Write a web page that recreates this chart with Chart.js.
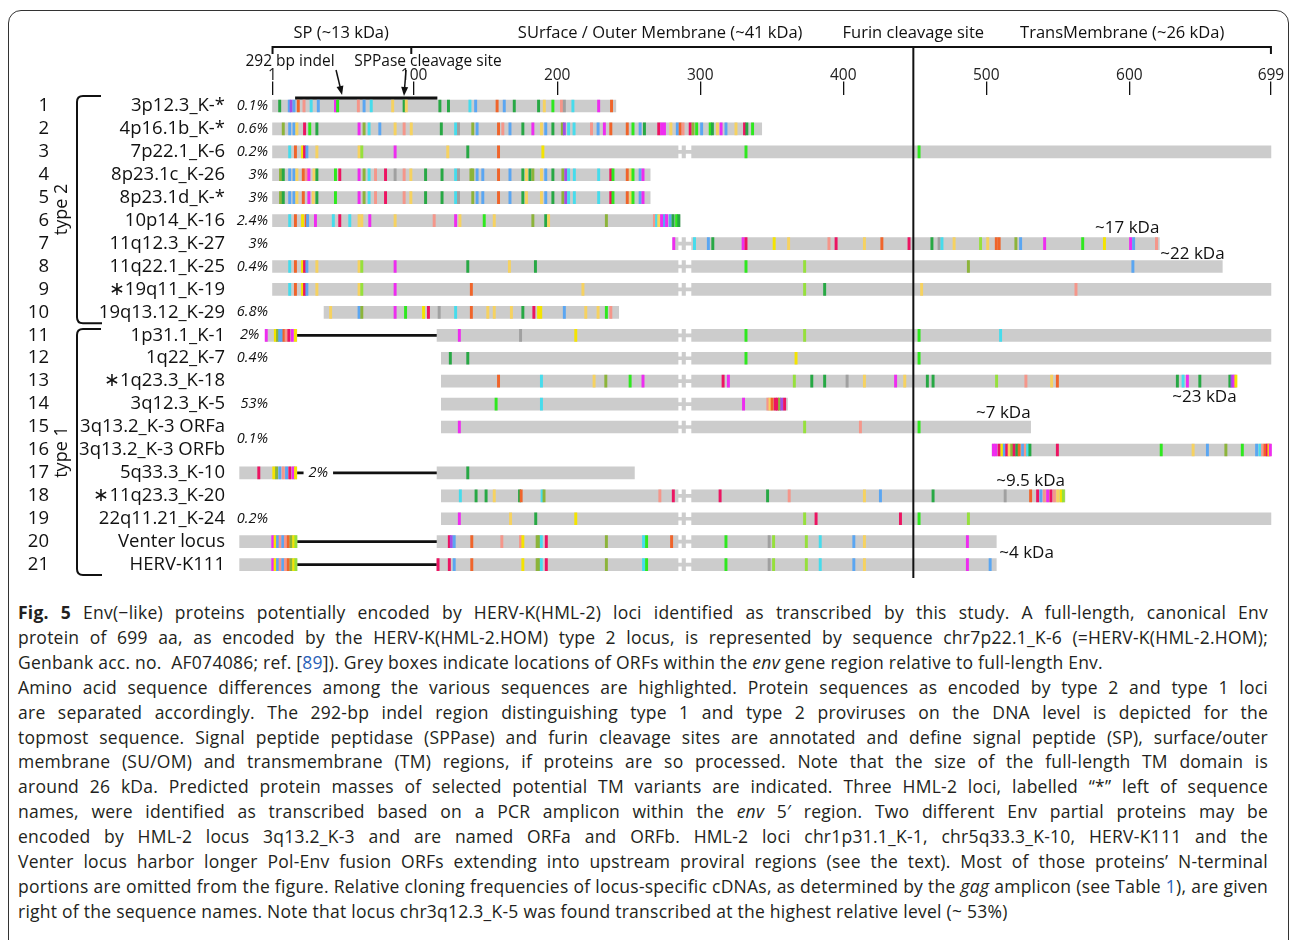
<!DOCTYPE html>
<html>
<head>
<meta charset="utf-8">
<script src="https://cdn.jsdelivr.net/npm/chart.js@4.4.1/dist/chart.umd.min.js"></script>
<style>
html, body { margin: 0; padding: 0; background: #fff; }
body { width: 1290px; height: 940px; position: relative; overflow: hidden; font-family: 'Open Sans', sans-serif; }
#frame { position: absolute; left: 8px; top: 10px; width: 1281px; height: 1000px; border: 1.5px solid #333; border-radius: 13px; box-sizing: border-box; }
#wrap { position: absolute; left: 0; top: 0; width: 1290px; height: 600px; }
#caption { position: absolute; left: 18px; top: 600px; width: 1250px; font-size: 17.5px; letter-spacing: 0.25px; line-height: 24.9px; color: #231f20; }
#caption div { white-space: nowrap; text-align: justify; text-align-last: justify; }
#caption div.last { text-align-last: left; }
#caption .ln { color: #2a5fb8; }
</style>
</head>
<body>
<div id="frame"></div>
<div id="wrap"><canvas id="envChart" width="1290" height="600"></canvas></div>
<div id="caption">
<div><b>Fig. 5</b> Env(−like) proteins potentially encoded by HERV-K(HML-2) loci identified as transcribed by this study. A full-length, canonical Env</div>
<div>protein of 699 aa, as encoded by the HERV-K(HML-2.HOM) type 2 locus, is represented by sequence chr7p22.1_K-6 (=HERV-K(HML-2.HOM);</div>
<div class="last">Genbank acc. no.&nbsp; AF074086; ref. [<span class="ln">89</span>]). Grey boxes indicate locations of ORFs within the <i>env</i> gene region relative to full-length Env.</div>
<div>Amino acid sequence differences among the various sequences are highlighted. Protein sequences as encoded by type 2 and type 1 loci</div>
<div>are separated accordingly. The 292-bp indel region distinguishing type 1 and type 2 proviruses on the DNA level is depicted for the</div>
<div>topmost sequence. Signal peptide peptidase (SPPase) and furin cleavage sites are annotated and define signal peptide (SP), surface/outer</div>
<div>membrane (SU/OM) and transmembrane (TM) regions, if proteins are so processed. Note that the size of the full-length TM domain is</div>
<div>around 26 kDa. Predicted protein masses of selected potential TM variants are indicated. Three HML-2 loci, labelled “*” left of sequence</div>
<div>names, were identified as transcribed based on a PCR amplicon within the <i>env</i> 5′ region. Two different Env partial proteins may be</div>
<div>encoded by HML-2 locus 3q13.2_K-3 and are named ORFa and ORFb. HML-2 loci chr1p31.1_K-1, chr5q33.3_K-10, HERV-K111 and the</div>
<div>Venter locus harbor longer Pol-Env fusion ORFs extending into upstream proviral regions (see the text). Most of those proteins’ N-terminal</div>
<div>portions are omitted from the figure. Relative cloning frequencies of locus-specific cDNAs, as determined by the <i>gag</i> amplicon (see Table <span class="ln">1</span>), are given</div>
<div class="last">right of the sequence names. Note that locus chr3q12.3_K-5 was found transcribed at the highest relative level (~ 53%)</div>
</div>
<script>
// rows of the figure (type 2: 1-10, type 1: 11-21)
const rowNums = [1, 2, 3, 4, 5, 6, 7, 8, 9, 10, 11, 12, 13, 14, 15, 16, 17, 18, 19, 20, 21];
const locusNames = ['3p12.3_K-*', '4p16.1b_K-*', '7p22.1_K-6', '8p23.1c_K-26', '8p23.1d_K-*', '10p14_K-16',
  '11q12.3_K-27', '11q22.1_K-25', '∗19q11_K-19', '19q13.12_K-29', '1p31.1_K-1', '1q22_K-7', '∗1q23.3_K-18',
  '3q12.3_K-5', '3q13.2_K-3 ORFa', '3q13.2_K-3 ORFb', '5q33.3_K-10', '∗11q23.3_K-20', '22q11.21_K-24',
  'Venter locus', 'HERV-K111'];

// relative cloning frequencies (row 15.5 = shared by ORFa / ORFb)
const freqRows = [1, 2, 3, 4, 5, 6, 7, 8, 10, 11, 12, 14, 15.5, 17, 19];
const freqText = ['0.1%', '0.6%', '0.2%', '3%', '3%', '2.4%', '3%', '0.4%', '6.8%', '2%', '0.4%', '53%', '0.1%', '2%', '0.2%'];

// ORF extents in aa (relative to full-length Env, 1..699)
const orfStart = [1, 1, 1, 1, 1, 1, 281, 1, 1, 37, 116, 119, 119, 119, 119, 504, 116, 119, 119, 116, 116];
const orfEnd = [241, 343, 699, 265, 265, 286, 621, 665, 699, 243, 699, 699, 675, 361, 531, 699, 254, 555, 699, 507, 507];

// Pol-Env fusion ORFs: upstream piece and link across the indel
const polRows = [11, 17, 20, 21];
const polStart = [-4, -22, -22, -22];
const polEnd = [18, 18, 18, 18];
const linkEnd = 116;

// alignment gap and the rows that carry it
const alignGap = [284.5, 294];
const gapRows = [3, 7, 8, 9, 11, 12, 13, 14, 15, 18, 19, 20, 21];

// 292 bp indel on the topmost sequence
const indelSpan = [17, 116];

const axisTicks = [1, 100, 200, 300, 400, 500, 600, 699];
const sppaseSite = 98;
const furinSite = 449;

const regionNames = ['SP (~13 kDa)', 'SUrface / Outer Membrane (~41 kDa)', 'Furin cleavage site', 'TransMembrane (~26 kDa)'];
const regionCentres = [49, 272, 449, 595];

const kdaText = ['~17 kDa', '~22 kDa', '~23 kDa', '~7 kDa', '~9.5 kDa', '~4 kDa'];
const kdaRow = [7, 7, 13, 15, 18, 20];

// amino acid differences: [position, colour class]
const rowMarks = [
  [[6,'G'],[12.7,'b'],[14,'p'],[16,'b'],[19,'r'],[23,'s'],[28,'c'],[33,'b'],[45,'m'],[46.5,'g'],[61,'s'],[65,'b'],[70,'c'],[85,'y'],[93,'G'],[94.5,'y'],[118,'G'],[124,'G'],[139,'c'],[143,'b'],[158,'r'],[163,'b'],[170,'G'],[187,'G'],[191,'y'],[197,'g'],[203,'s'],[205,'n'],[211,'c'],[229,'m'],[238,'r']],
  [[8.5,'o'],[13,'b'],[16,'b'],[18,'y'],[23.4,'k'],[27,'g'],[32,'G'],[61.5,'m'],[65,'o'],[68.5,'c'],[76,'b'],[86.7,'y'],[93,'s'],[98,'y'],[119,'G'],[129,'c'],[131,'n'],[141,'o'],[144,'b'],[159,'r'],[162,'s'],[167,'b'],[176,'G'],[183,'m'],[189,'y'],[192,'b'],[197,'G'],[203.6,'o'],[205,'p'],[208,'c'],[211.8,'c'],[224,'s'],[228.6,'b'],[233,'m'],[237.5,'r'],[249,'r'],[253,'g'],[258,'b'],[261,'G'],[271,'k'],[273,'m'],[275,'m'],[279.5,'y'],[284,'b'],[286,'r'],[288,'s'],[293,'k'],[295,'o'],[297.5,'g'],[301,'b'],[307,'g'],[308.5,'G'],[312,'y'],[314.6,'m'],[318,'b'],[325,'y'],[331,'k'],[332.6,'G'],[336.6,'g']],
  [[13,'c'],[17,'r'],[22,'Y'],[23.4,'k'],[25,'b'],[32,'y'],[61.5,'y'],[63.4,'l'],[86.7,'m'],[123.5,'y'],[137.5,'G'],[159,'r'],[190,'Y'],[332,'g'],[453,'g']],
  [[6.6,'o'],[8.5,'G'],[13,'b'],[16,'b'],[18,'y'],[22.5,'r'],[24.8,'s'],[26.4,'m'],[30,'y'],[32,'G'],[45,'g'],[48,'k'],[61.5,'m'],[65,'o'],[68.5,'c'],[73,'s'],[80,'k'],[86.7,'n'],[93,'s'],[97.7,'y'],[108,'G'],[119.5,'G'],[129,'c'],[131,'n'],[139.7,'o'],[141,'o'],[144,'b'],[148,'b'],[159,'r'],[167,'b'],[176,'G'],[178.5,'y'],[181,'G'],[183,'o'],[189,'y'],[192,'b'],[197,'G'],[204,'o'],[206,'p'],[208,'c'],[212,'c'],[229,'c'],[237.5,'k'],[239,'g'],[249,'r'],[251.5,'y'],[253,'g'],[258,'b'],[260,'m']],
  [[6.6,'o'],[8.5,'G'],[13,'b'],[16,'b'],[18,'y'],[22.5,'r'],[26.4,'m'],[29.5,'y'],[32,'G'],[45,'g'],[61.5,'m'],[65,'o'],[68.5,'c'],[73,'s'],[80,'k'],[93,'s'],[97.7,'y'],[108,'G'],[119.5,'G'],[129,'c'],[131,'n'],[141,'o'],[144,'b'],[148,'b'],[159,'r'],[167,'b'],[176,'G'],[178.5,'y'],[189,'y'],[192,'b'],[197,'G'],[204,'o'],[206,'p'],[208,'c'],[212,'c'],[229,'c'],[237.5,'k'],[239,'g'],[249,'r'],[251.5,'y'],[253,'g'],[258,'b'],[260,'m']],
  [[13,'c'],[17,'r'],[22,'Y'],[24.5,'r'],[25.5,'b'],[31,'m'],[43.5,'c'],[48,'k'],[55,'c'],[61.5,'y'],[63.4,'y'],[69,'m'],[86.7,'y'],[114,'s'],[129,'m'],[132,'y'],[149,'g'],[156,'y'],[183,'o'],[192,'G'],[194,'y'],[234.4,'o'],[268,'s'],[269.5,'c'],[271,'y'],[273,'m'],[275,'b'],[276.5,'m'],[279,'b'],[281,'G'],[283.5,'g'],[285,'G']],
  [[281.5,'m'],[296,'c'],[305.7,'b'],[308.8,'G'],[330,'m'],[332,'k'],[351.7,'Y'],[361.8,'y'],[390,'s'],[395,'k'],[414.8,'y'],[427,'r'],[446,'k'],[462,'G'],[467,'n'],[469,'c'],[477.5,'y'],[496,'l'],[501,'y'],[507,'r'],[509,'r'],[520.7,'o'],[524,'b'],[540.8,'m'],[567.4,'g'],[582.6,'Y'],[600.9,'m'],[603,'b'],[619,'s']],
  [[13,'c'],[17,'r'],[22,'Y'],[23.4,'k'],[25,'b'],[32,'y'],[61.5,'y'],[63.4,'l'],[86.7,'m'],[137.5,'G'],[166.6,'y'],[184.8,'G'],[332,'g'],[373,'l'],[487.5,'o'],[602.5,'b']],
  [[13,'c'],[17,'r'],[22,'Y'],[23.4,'k'],[25,'b'],[32,'y'],[61.5,'y'],[63.4,'l'],[86.7,'m'],[140,'r'],[218,'y'],[373,'l'],[387,'G'],[454.8,'y'],[562.7,'s']],
  [[41.6,'y'],[61.5,'b'],[63.4,'o'],[86.7,'m'],[94,'g'],[106.6,'Y'],[110,'k'],[117.5,'n'],[129,'c'],[140,'r'],[151.5,'y'],[156,'y'],[168,'y'],[176,'G'],[183.7,'k'],[187,'Y'],[188.5,'Y'],[205,'b'],[220,'y'],[228.6,'y'],[234.4,'g'],[237.5,'s']],
  [[-3.4,'m'],[3,'Y'],[4.5,'o'],[6,'b'],[7.5,'b'],[9,'r'],[10.5,'s'],[12.4,'k'],[14.8,'m'],[17,'Y'],[131.6,'m'],[174.4,'n'],[213,'Y'],[332,'g'],[373,'l'],[453,'g'],[510,'c']],
  [[125.3,'G'],[137.5,'G'],[332,'g'],[367,'Y'],[453,'g']],
  [[159,'r'],[189,'c'],[225.8,'y'],[234,'o'],[251,'g'],[260,'m'],[316,'k'],[319.7,'m'],[365.8,'l'],[378,'G'],[387,'G'],[402.7,'n'],[414.8,'y'],[436.6,'m'],[443,'y'],[458.8,'G'],[462.8,'G'],[507.2,'l'],[527.7,'s'],[545.7,'y'],[549.7,'r'],[633.6,'G'],[637.6,'c'],[640.6,'m'],[649.3,'G'],[670.3,'G'],[671.8,'p'],[673.2,'m'],[674.5,'Y']],
  [[157.3,'g'],[189,'c'],[330.3,'m'],[347.3,'s'],[348.8,'y'],[350.3,'r'],[352.5,'k'],[354,'k'],[355.5,'o'],[357,'p'],[359,'k']],
  [[131.6,'m'],[373,'l'],[412,'s'],[453,'g']],
  [[505,'m'],[506.7,'m'],[509,'k'],[511,'Y'],[512.6,'b'],[514.3,'k'],[516,'y'],[517.8,'o'],[519.5,'k'],[521.4,'G'],[523,'r'],[525.4,'b'],[527.3,'s'],[528.9,'c'],[530.5,'G'],[549.7,'k'],[622.3,'g'],[644.6,'y'],[654.6,'b'],[667.5,'o'],[679,'g'],[689,'b'],[691.3,'c'],[693.2,'s'],[694.9,'r'],[696.5,'k'],[697.6,'Y'],[698.6,'m']],
  [[-8.6,'k'],[1.9,'Y'],[3.8,'o'],[6.1,'b'],[8.5,'s'],[10.8,'b'],[13.1,'k'],[15.5,'m'],[17.1,'Y'],[137.5,'G']],
  [[132.3,'c'],[143.3,'G'],[150.3,'G'],[156,'y'],[173.7,'G'],[174.8,'r'],[189.5,'c'],[190.8,'o'],[271.8,'s'],[281.2,'k'],[313.9,'k'],[347.1,'G'],[362.2,'s'],[414.8,'y'],[426,'b'],[462.8,'G'],[513.2,'n'],[531,'r'],[535.9,'k'],[538.2,'b'],[540.6,'s'],[542.9,'m'],[545.2,'k'],[547.6,'s'],[549.9,'y'],[552.3,'Y'],[553.9,'l']],
  [[131.6,'m'],[167.4,'y'],[185,'G'],[213,'Y'],[373,'l'],[381,'k'],[440,'k'],[453,'g'],[487.5,'l']],
  [[1.2,'m'],[2.8,'Y'],[4.5,'b'],[6.3,'s'],[8.2,'b'],[10,'s'],[12,'r'],[14,'o'],[15.8,'Y'],[17.3,'l'],[124.6,'k'],[126,'p'],[128,'b'],[140.3,'r'],[161.3,'s'],[174.4,'s'],[176,'Y'],[186,'o'],[187.3,'o'],[188.9,'c'],[192.4,'k'],[234.4,'o'],[260.4,'c'],[262.5,'g'],[280,'r'],[318,'g'],[348.2,'n'],[351.3,'l'],[374.2,'l'],[383.9,'c'],[407.4,'b'],[414.8,'y'],[486.8,'m']],
  [[1.2,'m'],[2.8,'Y'],[4.5,'b'],[6.3,'s'],[8.2,'b'],[10,'s'],[12,'r'],[14,'o'],[15.8,'Y'],[17.3,'l'],[116.7,'k'],[124.6,'k'],[128,'b'],[140.3,'r'],[176,'Y'],[186,'o'],[187.3,'o'],[188.9,'c'],[192.4,'k'],[234.4,'o'],[260.4,'c'],[262.5,'g'],[318,'g'],[348.2,'n'],[351.3,'l'],[374.2,'l'],[383.9,'c'],[407.4,'b'],[414.8,'y'],[486.8,'m'],[502.7,'b']]
];

const palette = {
  G: '#27a844', g: '#2ee81e', l: '#96e03c', o: '#8cb43a', c: '#46dcec', b: '#5aa6f2', r: '#f0642a',
  s: '#f5968a', y: '#f6d260', Y: '#f4e400', m: '#ee2cf0', k: '#ec1462', p: '#a24ee6', n: '#a0a0a0'
};
const GREY = '#cccccc';
const INK = '#111';

// ---- build datasets ----
const orfPoints = [];
const gapPieces = [];
const gapLinks = [];
rowNums.forEach((r, i) => {
  if (gapRows.includes(r)) {
    if (orfStart[i] < alignGap[0]) orfPoints.push({ y: r, x: [orfStart[i], alignGap[0]] });
    orfPoints.push({ y: r, x: [alignGap[1], orfEnd[i]] });
    gapPieces.push({ y: r, x: [alignGap[0] + 2.8, alignGap[0] + 5.2] });
    gapLinks.push({ y: r, x: [alignGap[0], alignGap[1]] });
  } else {
    orfPoints.push({ y: r, x: [orfStart[i], orfEnd[i]] });
  }
});
polRows.forEach((r, i) => orfPoints.push({ y: r, x: [polStart[i], polEnd[i]] }));
const polLinks = polRows.map((r, i) => ({ y: r, x: [polEnd[i], linkEnd] }));
const indelPts = [{ y: 0.66, x: indelSpan }];

const markPoints = [];
rowMarks.forEach((list, i) => {
  list.forEach(m => markPoints.push({ y: rowNums[i], x: [m[0] - 0.8, m[0] + 0.8], k: m[1] }));
});

const FONT = "'Open Sans', sans-serif";

function arrow(ctx, x0, y0, x1, y1) {
  const a = Math.atan2(y1 - y0, x1 - x0);
  ctx.beginPath();
  ctx.moveTo(x0, y0);
  ctx.lineTo(x1 - 7 * Math.cos(a), y1 - 7 * Math.sin(a));
  ctx.stroke();
  ctx.beginPath();
  ctx.moveTo(x1, y1);
  ctx.lineTo(x1 - 9 * Math.cos(a) + 3.5 * Math.sin(a), y1 - 9 * Math.sin(a) - 3.5 * Math.cos(a));
  ctx.lineTo(x1 - 9 * Math.cos(a) - 3.5 * Math.sin(a), y1 - 9 * Math.sin(a) + 3.5 * Math.cos(a));
  ctx.closePath();
  ctx.fill();
}

const figText = {
  id: 'figText',
  afterDatasetsDraw(chart) {
    const { ctx, scales: { x, y } } = chart;
    const X = v => x.getPixelForValue(v);
    const Y = v => y.getPixelForValue(v);
    ctx.save();
    ctx.fillStyle = INK;
    ctx.strokeStyle = INK;

    // region bracket + furin line
    ctx.lineWidth = 2;
    ctx.beginPath();
    ctx.moveTo(X(1), 54); ctx.lineTo(X(1), 47); ctx.lineTo(X(699), 47); ctx.lineTo(X(699), 54);
    ctx.moveTo(X(sppaseSite), 47); ctx.lineTo(X(sppaseSite), 54);
    ctx.moveTo(X(furinSite), 47); ctx.lineTo(X(furinSite), Y(21.5) + 2);
    ctx.stroke();

    ctx.textBaseline = 'middle';
    ctx.textAlign = 'center';
    ctx.font = '16.5px ' + FONT;
    regionNames.forEach((t, i) => ctx.fillText(t, X(regionCentres[i]), 33));

    ctx.font = '15.5px ' + FONT;
    ctx.fillText('292 bp indel', 290, 62);
    ctx.fillText('SPPase cleavage site', 428, 62);
    ctx.lineWidth = 1.5;
    arrow(ctx, X(45.4), 70, X(49.6), 95);
    arrow(ctx, X(94.3), 70, X(92.9), 96);

    // row numbers, names
    ctx.font = '18.5px ' + FONT;
    rowNums.forEach((r, i) => {
      ctx.textAlign = 'right';
      ctx.fillText(String(r), 49, Y(r));
      ctx.fillText(locusNames[i], 225, Y(r));
    });

    // cloning frequencies
    ctx.font = 'italic 14.5px ' + FONT;
    freqRows.forEach((r, i) => {
      const p = polRows.indexOf(r);
      if (p >= 0 && polStart[p] < -10) {
        const cx = X(33), w = ctx.measureText(freqText[i]).width;
        ctx.fillStyle = '#fff';
        ctx.fillRect(cx - w / 2 - 5, Y(r) - 8, w + 10, 16);
        ctx.fillStyle = INK;
        ctx.textAlign = 'center';
        ctx.fillText(freqText[i], cx, Y(r));
      } else if (p >= 0) {
        ctx.textAlign = 'right';
        ctx.fillText(freqText[i], X(polStart[p]) - 6, Y(r));
      } else {
        ctx.textAlign = 'right';
        ctx.fillText(freqText[i], 268, Y(r));
      }
    });

    // type brackets
    ctx.lineWidth = 2;
    const bracket = (r0, r1) => {
      const y0 = Y(r0), y1 = Y(r1);
      ctx.beginPath();
      ctx.moveTo(101, y0); ctx.lineTo(83, y0);
      ctx.quadraticCurveTo(77, y0, 77, y0 + 6);
      ctx.lineTo(77, y1 - 6);
      ctx.quadraticCurveTo(77, y1, 83, y1);
      ctx.lineTo(102, y1);
      ctx.stroke();
      ctx.save();
      ctx.translate(62, (y0 + y1) / 2);
      ctx.rotate(-Math.PI / 2);
      ctx.textAlign = 'center';
      ctx.font = '18px ' + FONT;
      ctx.fillText(r0 < 5 ? 'type 2' : 'type 1', 0, 0);
      ctx.restore();
    };
    bracket(0.56, 10.47);
    bracket(10.73, 21.45);

    // predicted masses
    ctx.font = '17px ' + FONT;
    const place = [
      [X(orfEnd[6]), -15, 'right'], [X(orfEnd[6]) + 1, 11, 'left'], [X(orfEnd[12]), 16, 'right'],
      [X(orfEnd[14]), -14, 'right'], [X(orfEnd[17]), -15, 'right'], [X(orfEnd[19]) + 3, 11.5, 'left']
    ];
    kdaText.forEach((t, i) => {
      ctx.textAlign = place[i][2];
      ctx.fillText(t, place[i][0], Y(kdaRow[i]) + place[i][1]);
    });
    ctx.restore();
  }
};

new Chart(document.getElementById('envChart'), {
  type: 'bar',
  data: {
    datasets: [
      { label: 'differences', data: markPoints, backgroundColor: c => (c.raw ? palette[c.raw.k] : GREY), barThickness: 12, grouped: false, order: 0 },
      { label: 'gap piece', data: gapPieces, backgroundColor: GREY, barThickness: 12, grouped: false, order: 1 },
      { label: 'gap link', data: gapLinks, backgroundColor: GREY, barThickness: 3, grouped: false, order: 2 },
      { label: 'ORF', data: orfPoints, backgroundColor: GREY, barThickness: 12, grouped: false, order: 3 },
      { label: 'Pol-Env link', data: polLinks, backgroundColor: INK, barThickness: 2, grouped: false, order: 4 },
      { label: 'indel', data: indelPts, backgroundColor: INK, barThickness: 2.5, grouped: false, order: 4 }
    ]
  },
  options: {
    indexAxis: 'y',
    responsive: false,
    animation: false,
    devicePixelRatio: 1,
    layout: { padding: { left: 228.2, right: 6.2, top: 54.5, bottom: 23.9 } },
    plugins: { legend: { display: false }, tooltip: { enabled: false } },
    scales: {
      x: {
        type: 'linear', position: 'top', min: -30, max: 708, offset: false,
        afterBuildTicks: s => { s.ticks = axisTicks.map(v => ({ value: v })); },
        afterFit: s => { s.height = 40; s.paddingLeft = 0; s.paddingRight = 0; },
        grid: { drawOnChartArea: false, drawTicks: true, tickLength: 13, color: INK, lineWidth: 1.3, offset: false },
        border: { display: false },
        ticks: { padding: -3, color: '#222', font: { family: FONT, size: 15.5 }, maxRotation: 0, autoSkip: false }
      },
      y: { type: 'linear', display: false, min: 0.5, max: 21.5, reverse: true, offset: false, grace: 0, grid: { offset: false } }
    }
  },
  plugins: [figText]
});
</script>
</body>
</html>
